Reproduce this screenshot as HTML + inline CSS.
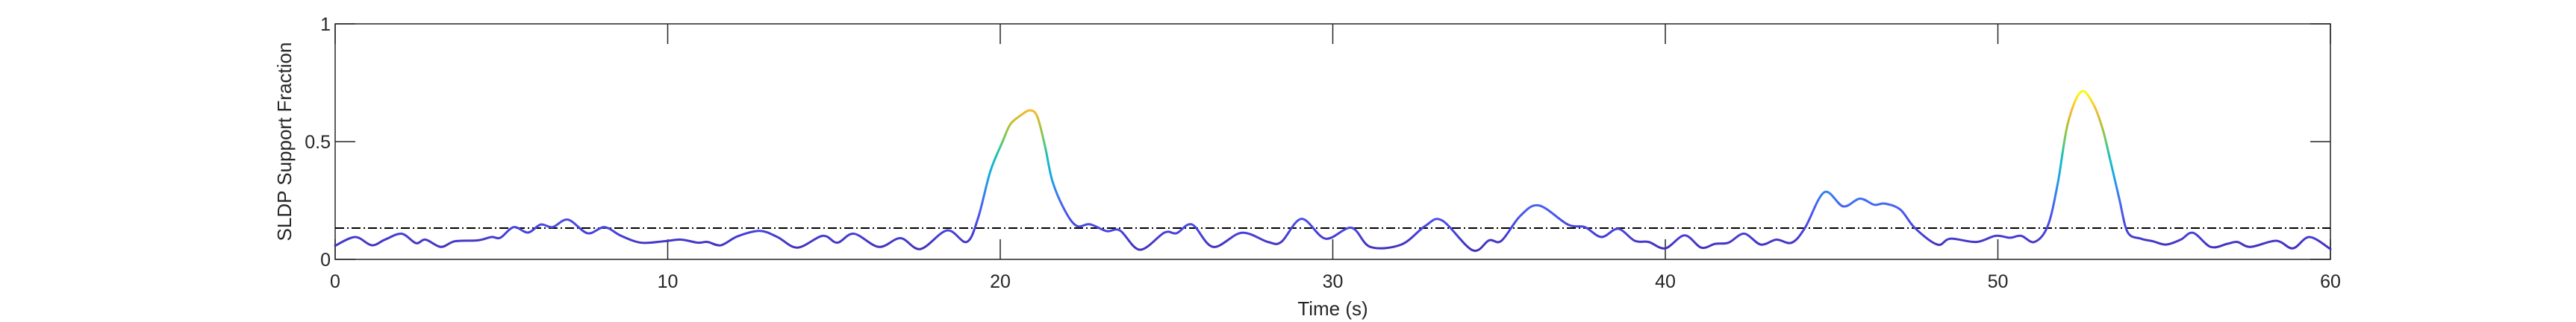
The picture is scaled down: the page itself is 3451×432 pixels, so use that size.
<!DOCTYPE html>
<html><head><meta charset="utf-8"><style>
html,body{margin:0;padding:0;background:#fff;}
svg{display:block;font-family:"Liberation Sans",sans-serif;}
</style></head><body>
<svg id="chart" width="3451" height="432" viewBox="0 0 3451 432" xmlns="http://www.w3.org/2000/svg">
<defs>
<linearGradient id="parula" gradientUnits="userSpaceOnUse" x1="0" x2="0" y1="348" y2="124">
<stop offset="0" stop-color="#3e26a8"/>
<stop offset="0.16" stop-color="#4640d8"/>
<stop offset="0.30" stop-color="#4a5cf0"/>
<stop offset="0.43" stop-color="#2d8cef"/>
<stop offset="0.52" stop-color="#16aedf"/>
<stop offset="0.62" stop-color="#19c0b8"/>
<stop offset="0.72" stop-color="#6ccb5e"/>
<stop offset="0.82" stop-color="#c3be2e"/>
<stop offset="0.90" stop-color="#fbb935"/>
<stop offset="1" stop-color="#f9fb0e"/>
</linearGradient>
</defs>
<g id="plot"></g>
</svg>
<script>
const times=[0,0.6,1.1,1.5,2.0,2.43,2.72,3.18,3.6,4.3,4.7,4.97,5.37,5.8,6.18,6.54,7.0,7.59,8.1,8.6,9.2,9.9,10.4,10.9,11.2,11.6,12.1,12.77,13.3,13.9,14.66,15.1,15.6,16.35,17.0,17.6,18.4,18.99,19.33,19.7,20.07,20.3,20.6,20.9,21.12,21.35,21.57,21.95,22.3,22.7,23.2,23.6,24.2,24.94,25.3,25.77,26.4,27.26,28.05,28.45,29.06,29.78,30.56,31.13,32.06,32.78,33.28,34.2,34.7,35.07,35.64,36.2,37.07,37.58,38.08,38.58,39.08,39.5,40.0,40.58,41.08,41.5,41.9,42.37,42.87,43.34,43.8,44.2,44.78,45.35,45.85,46.28,46.6,47.07,47.5,48.18,48.57,49.35,49.93,50.36,50.7,51.1,51.5,51.8,52.1,52.5,52.87,53.15,53.37,53.65,53.9,54.3,54.66,55.06,55.5,55.87,56.4,56.9,57.2,57.6,58.37,58.87,59.37,60.0];
const values=[0.058,0.095,0.06,0.084,0.109,0.069,0.084,0.053,0.077,0.081,0.095,0.092,0.137,0.114,0.148,0.137,0.169,0.111,0.137,0.10,0.071,0.077,0.084,0.071,0.074,0.06,0.098,0.121,0.095,0.05,0.10,0.071,0.109,0.053,0.09,0.044,0.123,0.074,0.174,0.373,0.5,0.573,0.61,0.633,0.604,0.478,0.332,0.206,0.142,0.149,0.12,0.123,0.041,0.114,0.111,0.148,0.053,0.113,0.074,0.074,0.172,0.088,0.134,0.053,0.063,0.142,0.166,0.039,0.081,0.079,0.185,0.229,0.148,0.137,0.095,0.13,0.079,0.074,0.047,0.102,0.05,0.066,0.071,0.109,0.063,0.084,0.071,0.134,0.285,0.225,0.258,0.232,0.237,0.211,0.134,0.063,0.088,0.074,0.10,0.092,0.10,0.074,0.142,0.322,0.575,0.712,0.659,0.554,0.427,0.258,0.116,0.088,0.077,0.063,0.084,0.113,0.053,0.066,0.074,0.053,0.079,0.047,0.095,0.044];
const thresholdValue=[0.133];
const xTicks=[0,10,20,30,40,50,60];
const yTicks=[0,0.5,1];
const yTickLabels=["0","0.5","1"];

const L=449,R=3122,T=32,B=348;
const sx=t=>L+(t-0)/(60-0)*(R-L);
const sy=v=>B-(v-0)/(1-0)*(B-T);
const NS="http://www.w3.org/2000/svg";
const g=document.getElementById('plot');
function mk(tag,attrs){const e=document.createElementNS(NS,tag);for(const k in attrs)e.setAttribute(k,attrs[k]);return e;}

// axes box
const box=mk('rect',{x:L,y:T,width:R-L,height:B-T,fill:'none',stroke:'#262626','stroke-width':1.5});


g.appendChild(box);

xTicks.forEach(t=>{
  const x=sx(t);
  const t1=mk('line',{x1:x,x2:x,y1:B,y2:B-27,stroke:'#262626','stroke-width':1.5});
  
  
  g.appendChild(t1);
  const t2=mk('line',{x1:x,x2:x,y1:T,y2:T+27,stroke:'#262626','stroke-width':1.5});
  
  
  g.appendChild(t2);
  const lb=mk('text',{x:x,y:386,'text-anchor':'middle','font-size':25,fill:'#262626'});
  lb.textContent=String(t);
  
  
  g.appendChild(lb);
});
yTicks.forEach((v,i)=>{
  const y=sy(v);
  const t1=mk('line',{x1:L,x2:L+27,y1:y,y2:y,stroke:'#262626','stroke-width':1.5});
  
  
  g.appendChild(t1);
  const t2=mk('line',{x1:R,x2:R-27,y1:y,y2:y,stroke:'#262626','stroke-width':1.5});
  
  
  g.appendChild(t2);
  const lb=mk('text',{x:L-6,y:y+9,'text-anchor':'end','font-size':25,fill:'#262626'});
  lb.textContent=yTickLabels[i];
  
  
  g.appendChild(lb);
});

// threshold line
const th=mk('line',{x1:L,x2:R,y1:sy(thresholdValue[0]),y2:sy(thresholdValue[0]),stroke:'#000','stroke-width':2,'stroke-dasharray':'12 4 2 4'});


g.appendChild(th);

// smooth curve (Catmull-Rom)
const pts=times.map((t,i)=>[sx(t),sy(values[i])]);
let d='M'+pts[0][0]+','+pts[0][1];
for(let i=0;i<pts.length-1;i++){
  const p0=pts[i-1]||pts[i],p1=pts[i],p2=pts[i+1],p3=pts[i+2]||p2;
  const c1x=p1[0]+(p2[0]-p0[0])/6,c1y=p1[1]+(p2[1]-p0[1])/6;
  const c2x=p2[0]-(p3[0]-p1[0])/6,c2y=p2[1]-(p3[1]-p1[1])/6;
  d+=' C'+c1x+','+c1y+' '+c2x+','+c2y+' '+p2[0]+','+p2[1];
}
const line=mk('path',{d:d,fill:'none',stroke:'url(#parula)','stroke-width':3,'stroke-linejoin':'round','stroke-linecap':'round'});


g.appendChild(line);

const xt=mk('text',{x:(L+R)/2,y:423,'text-anchor':'middle','font-size':26,fill:'#262626'});
xt.textContent='Time (s)';


g.appendChild(xt);
const yt=mk('text',{x:0,y:0,'text-anchor':'middle','font-size':26,fill:'#262626',transform:'translate(390,'+((T+B)/2)+') rotate(-90)'});
yt.textContent='SLDP Support Fraction';


g.appendChild(yt);
</script>
</body></html>
